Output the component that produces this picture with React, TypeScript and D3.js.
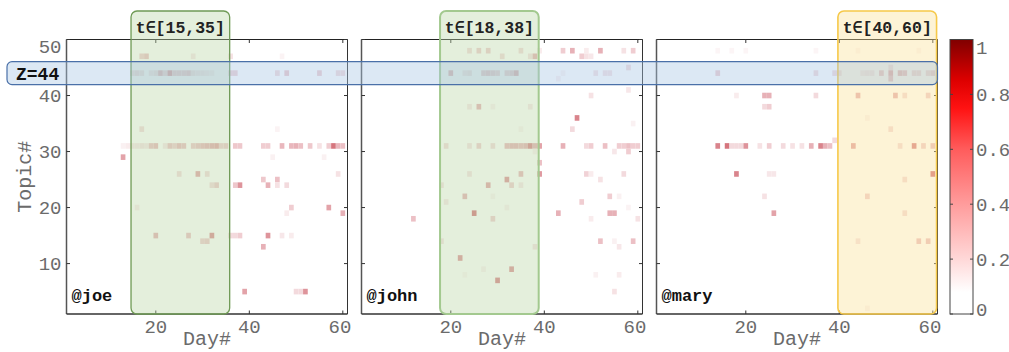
import React from "react";
import * as d3 from "d3";

// Topic activity per user: [day, topic, weight]
const joeCells: [number, number, number][] = [
  [17, 47, 0.2], [18, 47, 0.25], [28, 47, 0.1], [36, 47, 0.12], [47, 47, 0.05],
  [15, 44, 0.15], [16, 44, 0.18], [17, 44, 0.15], [19, 44, 0.12], [20, 44, 0.15], [21, 44, 0.35],
  [22, 44, 0.2], [23, 44, 0.45], [24, 44, 0.25], [25, 44, 0.25], [26, 44, 0.25], [27, 44, 0.28],
  [28, 44, 0.15], [29, 44, 0.12], [30, 44, 0.12], [31, 44, 0.1], [32, 44, 0.08], [36, 44, 0.18],
  [37, 44, 0.18], [46, 44, 0.15], [48, 44, 0.22], [55, 44, 0.2], [59, 44, 0.15], [60, 44, 0.15],
  [17, 34, 0.15], [46, 34, 0.05],
  [13, 31, 0.06], [14, 31, 0.08], [15, 31, 0.1], [16, 31, 0.1], [17, 31, 0.12], [18, 31, 0.1],
  [19, 31, 0.25], [20, 31, 0.28], [22, 31, 0.1], [23, 31, 0.25], [24, 31, 0.2], [25, 31, 0.28],
  [26, 31, 0.25], [28, 31, 0.22], [29, 31, 0.25], [30, 31, 0.28], [31, 31, 0.3], [32, 31, 0.32],
  [33, 31, 0.35], [34, 31, 0.2], [35, 31, 0.22], [37, 31, 0.22], [38, 31, 0.22], [43, 31, 0.2],
  [44, 31, 0.2], [47, 31, 0.28], [49, 31, 0.28], [50, 31, 0.3], [51, 31, 0.25], [53, 31, 0.22],
  [55, 31, 0.12], [57, 31, 0.2], [58, 31, 0.5], [59, 31, 0.28], [60, 31, 0.25],
  [13, 29, 0.35], [45, 29, 0.06], [56, 29, 0.06],
  [25, 26, 0.15], [29, 26, 0.35], [31, 26, 0.15], [59, 26, 0.12],
  [43, 25, 0.22], [46, 25, 0.25],
  [32, 24, 0.15], [33, 24, 0.22], [37, 24, 0.22], [38, 24, 0.4], [44, 24, 0.3], [46, 24, 0.12], [48, 24, 0.15],
  [16, 20, 0.08], [49, 20, 0.2], [57, 20, 0.35],
  [48, 19, 0.08], [60, 19, 0.3],
  [20, 15, 0.3], [27, 15, 0.25], [32, 15, 0.42], [36, 15, 0.15], [37, 15, 0.15], [38, 15, 0.2],
  [44, 15, 0.4], [47, 15, 0.1], [49, 15, 0.08],
  [30, 14, 0.2], [31, 14, 0.22],
  [43, 13, 0.3],
  [39, 5, 0.35], [50, 5, 0.15], [51, 5, 0.15], [52, 5, 0.4],
];

const johnCells: [number, number, number][] = [
  [24, 48, 0.15], [26, 48, 0.2], [28, 48, 0.2], [35, 48, 0.15], [39, 48, 0.08], [44, 48, 0.2],
  [46, 48, 0.3], [49, 48, 0.08], [52, 48, 0.3], [57, 48, 0.12], [59, 48, 0.2],
  [31, 47, 0.15], [37, 47, 0.12], [38, 47, 0.3], [48, 47, 0.2], [49, 47, 0.12], [50, 47, 0.1],
  [58, 45, 0.15],
  [20, 44, 0.35], [23, 44, 0.12], [24, 44, 0.15], [27, 44, 0.25], [28, 44, 0.28], [29, 44, 0.25],
  [30, 44, 0.22], [32, 44, 0.22], [33, 44, 0.25], [34, 44, 0.38], [44, 44, 0.05], [51, 44, 0.12],
  [53, 44, 0.12], [54, 44, 0.12],
  [43, 43, 0.06], [58, 41, 0.1], [50, 40, 0.12],
  [24, 38, 0.1], [26, 38, 0.3], [29, 38, 0.06], [37, 38, 0.1],
  [47, 36, 0.45], [59, 35, 0.06], [46, 34, 0.15], [35, 34, 0.05],
  [19, 31, 0.15], [24, 31, 0.12], [26, 31, 0.2], [29, 31, 0.15], [32, 31, 0.28], [33, 31, 0.3],
  [34, 31, 0.3], [35, 31, 0.28], [36, 31, 0.3], [37, 31, 0.45], [38, 31, 0.3], [39, 31, 0.35],
  [44, 31, 0.3], [49, 31, 0.15], [50, 31, 0.2], [53, 31, 0.25], [56, 31, 0.2], [57, 31, 0.2],
  [58, 31, 0.25], [59, 31, 0.2], [60, 31, 0.2],
  [38, 30, 0.06], [55, 30, 0.1], [58, 30, 0.2],
  [39, 28, 0.25],
  [24, 26, 0.12], [35, 26, 0.28], [39, 26, 0.38], [49, 26, 0.18], [50, 26, 0.08], [57, 26, 0.15],
  [32, 25, 0.4], [52, 25, 0.12],
  [18, 24, 0.12], [28, 24, 0.35], [33, 24, 0.2], [35, 24, 0.1],
  [23, 22, 0.3], [29, 22, 0.05], [54, 22, 0.2], [56, 22, 0.06],
  [19, 21, 0.1], [48, 21, 0.2],
  [32, 20, 0.06], [58, 20, 0.05],
  [25, 19, 0.5], [43, 19, 0.3], [54, 19, 0.3], [55, 19, 0.3],
  [12, 18, 0.25], [29, 18, 0.2], [50, 18, 0.08], [60, 18, 0.12],
  [18, 14, 0.12], [52, 14, 0.25], [55, 14, 0.06], [59, 14, 0.25],
  [38, 13, 0.12], [56, 13, 0.1],
  [22, 11, 0.4],
  [27, 9, 0.06], [33, 9, 0.4],
  [51, 8, 0.06], [56, 8, 0.08], [23, 8, 0.04],
  [30, 7, 0.45],
  [55, 5, 0.12],
];

const maryCells: [number, number, number][] = [
  [14, 48, 0.04], [17, 48, 0.04], [20, 48, 0.04], [35, 48, 0.04], [44, 48, 0.04], [57, 48, 0.04],
  [51, 45, 0.15],
  [14, 44, 0.2], [35, 44, 0.15], [39, 44, 0.15], [40, 44, 0.15], [45, 44, 0.1], [46, 44, 0.12],
  [47, 44, 0.12], [49, 44, 0.28], [51, 44, 0.4], [53, 44, 0.35], [54, 44, 0.3], [56, 44, 0.2],
  [57, 44, 0.2], [59, 44, 0.2], [60, 44, 0.25],
  [51, 43, 0.3],
  [18, 40, 0.08], [24, 40, 0.3], [25, 40, 0.3], [35, 40, 0.15], [44, 40, 0.3], [52, 40, 0.3],
  [54, 40, 0.15], [59, 40, 0.2],
  [24, 38, 0.15], [25, 38, 0.2],
  [46, 36, 0.05], [51, 34, 0.15], [39, 32, 0.15],
  [14, 31, 0.45], [16, 31, 0.5], [17, 31, 0.15], [18, 31, 0.15], [19, 31, 0.15], [20, 31, 0.4],
  [23, 31, 0.12], [25, 31, 0.2], [28, 31, 0.15], [30, 31, 0.12], [32, 31, 0.12], [34, 31, 0.3],
  [36, 31, 0.45], [37, 31, 0.3], [38, 31, 0.25], [43, 31, 0.35], [53, 31, 0.15], [56, 31, 0.45],
  [58, 31, 0.2], [60, 31, 0.25],
  [18, 26, 0.45], [25, 26, 0.1], [26, 26, 0.1], [60, 26, 0.5],
  [54, 25, 0.15],
  [24, 22, 0.12], [46, 22, 0.2],
  [26, 19, 0.35], [54, 19, 0.15],
  [44, 14, 0.12], [57, 14, 0.25], [59, 14, 0.25],
  [46, 2, 0.05],
];

const users = ["@joe", "@john", "@mary"];
const userCells = [joeCells, johnCells, maryCells];
const windows: [number, number][] = [[15, 35], [18, 38], [40, 60]];
const highlightTopic = 44;
const dayDomain: [number, number] = [0.9, 61];
const topicDomain: [number, number] = [1, 50];
const xTicks = [20, 40, 60];
const yTicks = [10, 20, 30, 40, 50];
const colorTicks = [0, 0.2, 0.4, 0.6, 0.8, 1];

const W = 1009;
const H = 352;
const TOP = 39.5;
const BOTTOM = 314;
const PANEL_W = 281;
const PANEL_LEFTS = [66.5, 361.5, 656.5];
const CB = { x: 950, w: 23 };
const FONT = "'Liberation Mono', 'DejaVu Sans Mono', monospace";
const GRAY = "#6b6b6b";

const windowStyles = [
  { fill: "rgb(188,215,168)", stroke: "#6f9a55", sw: 1.3 },
  { fill: "rgb(188,215,168)", stroke: "#a3c98f", sw: 2 },
  { fill: "rgb(250,225,152)", stroke: "#f6c94a", sw: 1.6 },
];

// colour for the heat cells
const cellColor = d3
  .scaleLinear<string>()
  .domain([0, 0.1, 0.25, 0.4, 0.55])
  .range(["#ffffff", "#f7e7e9", "#ecc0c5", "#de949b", "#d0646e"])
  .clamp(true);

// colour bar stops
const barStops: [number, string][] = [
  [0, "#ffffff"], [0.08, "#ffffff"], [0.2, "#ffd8d8"], [0.4, "#ff9c9c"],
  [0.6, "#ff5c5c"], [0.75, "#ff1212"], [0.85, "#de0000"], [1, "#800000"],
];

const y = d3.scaleLinear().domain(topicDomain).range([BOTTOM, TOP]);

function Panel({ idx }: { idx: number }) {
  const left = PANEL_LEFTS[idx];
  const right = left + PANEL_W;
  const x = d3.scaleLinear().domain(dayDomain).range([left, right]);
  const cells = userCells[idx];
  const [s, e] = windows[idx];
  const style = windowStyles[idx];
  const bx0 = x(s - 0.3);
  const bx1 = Math.min(x(e + 0.8), right);
  return (
    <g>
      <clipPath id={`clip${idx}`}>
        <rect x={left} y={TOP} width={PANEL_W} height={BOTTOM - TOP} />
      </clipPath>
      <rect x={left} y={TOP} width={PANEL_W} height={BOTTOM - TOP} fill="#fff" />
      <g clipPath={`url(#clip${idx})`} filter="url(#soft)">
        {cells.map(([d, t, v], i) => (
          <rect
            key={i}
            x={x(d - 0.5)}
            y={y(t + 0.5)}
            width={x(d + 0.5) - x(d - 0.5)}
            height={y(t - 0.5) - y(t + 0.5)}
            fill={cellColor(v)}
          />
        ))}
      </g>
      {/* frame */}
      <line x1={left} x2={right} y1={TOP} y2={TOP} stroke="#222" strokeWidth={1} />
      <line x1={right} x2={right} y1={TOP} y2={BOTTOM} stroke="#333" strokeWidth={1} />
      <line x1={left} x2={left} y1={TOP} y2={BOTTOM} stroke="#555" strokeWidth={1.5} />
      <line x1={left} x2={right} y1={BOTTOM} y2={BOTTOM} stroke="#333" strokeWidth={1.5} />
      {yTicks.map((t) => (
        <g key={`yt${t}`}>
          <line x1={left} x2={left + 3.5} y1={y(t)} y2={y(t)} stroke="#333" />
          <line x1={right - 3.5} x2={right} y1={y(t)} y2={y(t)} stroke="#333" />
        </g>
      ))}
      {xTicks.map((t) => (
        <g key={`xt${t}`}>
          <line x1={x(t)} x2={x(t)} y1={TOP} y2={TOP + 3.5} stroke="#333" />
          <line x1={x(t)} x2={x(t)} y1={BOTTOM - 3.5} y2={BOTTOM} stroke="#333" />
          <text
            x={Math.min(x(t), right - 7.5)}
            y={332.5}
            textAnchor="middle"
            fontFamily={FONT}
            fontSize={19}
            fill={GRAY}
          >
            {t}
          </text>
        </g>
      ))}
      {idx === 0 &&
        yTicks.map((t) => (
          <text
            key={`yl${t}`}
            x={61.5}
            y={Math.max(TOP + 6.5, y(t))}
            dy="0.35em"
            textAnchor="end"
            fontFamily={FONT}
            fontSize={19}
            fill={GRAY}
          >
            {t}
          </text>
        ))}
      <text
        x={(left + right) / 2}
        y={345}
        textAnchor="middle"
        fontFamily={FONT}
        fontSize={20}
        fill={GRAY}
      >
        Day#
      </text>
      {/* time window */}
      <rect
        x={bx0}
        y={11}
        width={bx1 - bx0}
        height={BOTTOM - 11}
        rx={6}
        fill={style.fill}
        fillOpacity={0.4}
        stroke={style.stroke}
        strokeWidth={style.sw}
      />
      <text
        x={(bx0 + bx1) / 2}
        y={33}
        textAnchor="middle"
        fontFamily={FONT}
        fontWeight="bold"
        fontSize={16.5}
        fill="#222"
      >
        {`t∈[${s},${e}]`}
      </text>
      <text
        x={left + 5}
        y={301}
        fontFamily={FONT}
        fontWeight="bold"
        fontSize={17}
        fill="#111"
      >
        {users[idx]}
      </text>
    </g>
  );
}

export default function App() {
  const cb = d3.scaleLinear().domain([0, 1]).range([BOTTOM, TOP]);
  const bandRight = PANEL_LEFTS[2] + PANEL_W;
  const bandTop = y(highlightTopic + 2.05);
  const bandBottom = y(highlightTopic - 2.05);
  return (
    <svg
      width={W}
      height={H}
      style={{ position: "absolute", left: 0, top: 0, background: "#fff" }}
    >
      <defs>
        <filter id="soft" x="-5%" y="-5%" width="110%" height="110%">
          <feGaussianBlur stdDeviation={0.45} />
        </filter>
        <linearGradient id="cbar" x1="0" y1="1" x2="0" y2="0">
          {barStops.map(([o, c]) => (
            <stop key={o} offset={o} stopColor={c} />
          ))}
        </linearGradient>
      </defs>
      <rect width={W} height={H} fill="#fff" />
      {PANEL_LEFTS.map((_, i) => (
        <Panel key={i} idx={i} />
      ))}
      <text
        transform={`translate(31,${(TOP + BOTTOM) / 2}) rotate(-90)`}
        textAnchor="middle"
        fontFamily={FONT}
        fontSize={20}
        fill={GRAY}
      >
        Topic#
      </text>
      {/* highlighted topic band */}
      <rect
        x={7}
        y={bandTop}
        width={bandRight - 7}
        height={bandBottom - bandTop}
        rx={5}
        fill="rgb(168,198,228)"
        fillOpacity={0.4}
        stroke="#4a70a8"
        strokeWidth={1.2}
      />
      <text
        x={16}
        y={(bandTop + bandBottom) / 2}
        dy="0.36em"
        fontFamily={FONT}
        fontWeight="bold"
        fontSize={18}
        fill="#111"
      >
        {`Z=${highlightTopic}`}
      </text>
      {/* colour bar */}
      <rect x={CB.x} y={TOP} width={CB.w} height={BOTTOM - TOP} fill="url(#cbar)" stroke="#444" strokeWidth={1} />
      {colorTicks.map((t) => (
        <g key={`cb${t}`}>
          <line x1={CB.x} x2={CB.x + 3} y1={cb(t)} y2={cb(t)} stroke="#444" />
          <line x1={CB.x + CB.w - 3} x2={CB.x + CB.w} y1={cb(t)} y2={cb(t)} stroke="#444" />
          <text
            x={976}
            y={Math.min(Math.max(cb(t), TOP + 8), BOTTOM - 4.5)}
            dy="0.35em"
            fontFamily={FONT}
            fontSize={19}
            fill={GRAY}
          >
            {t}
          </text>
        </g>
      ))}
    </svg>
  );
}
